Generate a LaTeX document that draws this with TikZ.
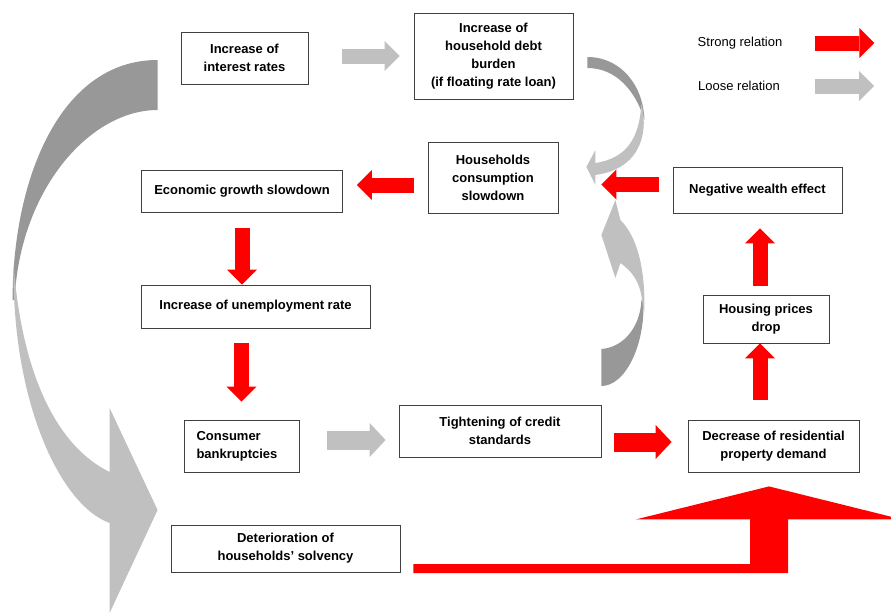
\documentclass[tikz,border=0pt]{standalone}
\usepackage{fontspec}
\setmainfont{Liberation Sans}
\usetikzlibrary{arrows.meta,calc}
\definecolor{strongred}{RGB}{255,0,0}
\definecolor{loosegray}{RGB}{192,192,192}
\definecolor{backgray}{RGB}{152,152,152}

\begin{document}
\begin{tikzpicture}[x=1pt, y=-1pt,
    box/.style={rectangle, draw=black!75, line width=0.8pt, inner sep=0pt, align=center, font=\fontsize{13}{18}\selectfont\bfseries},
    strong/.style={draw=strongred, line width=15pt, -{Triangle[length=15pt, width=30pt, line width=0pt]}},
    loose/.style={draw=loosegray, line width=15pt, -{Triangle[length=15pt, width=30pt, line width=0pt]}},
    wide/.style={line width=19pt, -{Triangle[length=16pt, width=34pt, line width=0pt]}},
    legend/.style={font=\fontsize{13}{16}\selectfont, inner sep=0pt}
]
\useasboundingbox (0,0) rectangle (891,613);

% Boxes
\node[box, minimum width=127, minimum height=52] (ir) at (244.5,58) {Increase of\\interest rates};
\node[box, minimum width=159, minimum height=86] (debt) at (493.5,56) {Increase of\\household debt\\burden\\(if floating rate loan)};
\node[box, minimum width=130, minimum height=71] (cons) at (493,177.5) {Households\\consumption\\slowdown};
\node[box, minimum width=201, minimum height=42] (growth) at (242,191) {Economic growth slowdown};
\node[box, minimum width=169, minimum height=46] (wealth) at (757.5,190) {Negative wealth effect};
\node[box, minimum width=229, minimum height=43] (unemp) at (255.5,306.5) {Increase of unemployment rate};
\node[box, minimum width=126, minimum height=48] (house) at (766,319) {Housing prices\\drop};
\node[box, minimum width=115, minimum height=52, align=left, text width=90] (bank) at (241.5,446) {Consumer\\bankruptcies};
\node[box, minimum width=202, minimum height=52] (tight) at (500,431) {Tightening of credit\\standards};
\node[box, minimum width=171, minimum height=52] (demand) at (773.5,446) {Decrease of residential\\property demand};
\node[box, minimum width=229, minimum height=47] (solv) at (285.5,548.5) {Deterioration of\\households' solvency};

% Legend
\node[legend] (strongtxt) at (740,43) {Strong relation};
\node[legend] (loosetxt) at (739,86) {Loose relation};
\draw[strong] ([xshift=33]strongtxt.east) -- ++(59,0);
\draw[loose] ([xshift=35]loosetxt.east) -- ++(59,0);

% Straight relations
\draw[loose, shorten <=34pt, shorten >=14pt] (ir.east |- debt.west) -- (debt.west);
\draw[strong, shorten <=14pt, shorten >=14pt] ([yshift=-7.5]cons.west) -- ([yshift=6]growth.east);
\draw[strong, shorten <=14pt, shorten >=43pt] ([yshift=5.5]wealth.west) -- ([yshift=-7]cons.east);
\draw[strong, shorten <=16pt] (growth.south) -- (growth.south |- unemp.north);
\draw[strong, shorten <=15pt, shorten >=18pt] (unemp.south -| bank.north) -- (bank.north);
\draw[strong, shorten <=9pt, shorten >=15pt] ([xshift=-6]house.north) -- ([xshift=-6]house.north |- wealth.south);
\draw[strong, shorten <=20pt] ([xshift=-13.5]demand.north) -- ([xshift=-6]house.south);
\draw[loose, wide, shorten <=28pt, shorten >=13pt] ([yshift=6]bank.east) -- ([yshift=-9]tight.west);
\draw[strong, wide, shorten <=13pt, shorten >=16pt] ([yshift=-11]tight.east) -- ([yshift=4]demand.west);

% Solvency to property demand
\coordinate (ltail) at ($(solv.east)+(13,20)$);
\coordinate (ltip) at ($(demand.south)+(-4.5,14)$);
\fill[strongred] ($(ltail)+(0,-4.5)$) -- ($(ltip |- ltail)+(-19,-4.5)$) -- ($(ltip)+(-19,33)$)
  -- ($(ltip)+(-133,33)$) -- (ltip) -- ($(ltip)+(122,30.3)$) -- ($(ltip)+(122,33)$)
  -- ($(ltip)+(19,33)$) -- ($(ltip |- ltail)+(19,4.5)$) -- ($(ltail)+(0,4.5)$) -- cycle;

% Interest rates to solvency
\begin{scope}[shift={(ir.west)}]
  \fill[backgray] (-23,2) .. controls (-121,2) and (-168,122) .. (-168,242)
    -- (-166,242) .. controls (-161,132) and (-91,52) .. (-23,52) -- cycle;
  \fill[loosegray] (-167,207) .. controls (-169,342) and (-121,447) .. (-71,465)
    -- (-71,555) -- (-23,452) -- (-71,350) -- (-71,414)
    .. controls (-126,387) and (-159,312) .. (-167,207) -- cycle;
\end{scope}

% Debt burden to consumption
\begin{scope}[shift={(debt.east)}]
  \fill[backgray] (14,1) .. controls (47,1) and (70,29) .. (71,64)
    .. controls (62,34) and (42,12) .. (14,12) -- cycle;
  \fill[loosegray] (68,48) .. controls (74,70) and (72,112) .. (22,119)
    -- (22,129) -- (13,111) -- (22,94) -- (22,107)
    .. controls (55,102) and (66,80) .. (68,48) -- cycle;
\end{scope}

% Credit standards to consumption
\begin{scope}[shift={(tight.east)}]
  \fill[backgray] (0,-45) .. controls (24,-45) and (44,-86) .. (42,-131)
    -- (40,-131) .. controls (39,-106) and (24,-84) .. (0,-82) -- cycle;
  \fill[loosegray] (43,-119) .. controls (44,-165) and (35,-195) .. (19,-211)
    -- (14,-231) -- (0,-196) -- (14,-153) -- (19,-168)
    .. controls (30,-160) and (39,-150) .. (41,-128) -- cycle;
\end{scope}
\end{tikzpicture}
\end{document}
